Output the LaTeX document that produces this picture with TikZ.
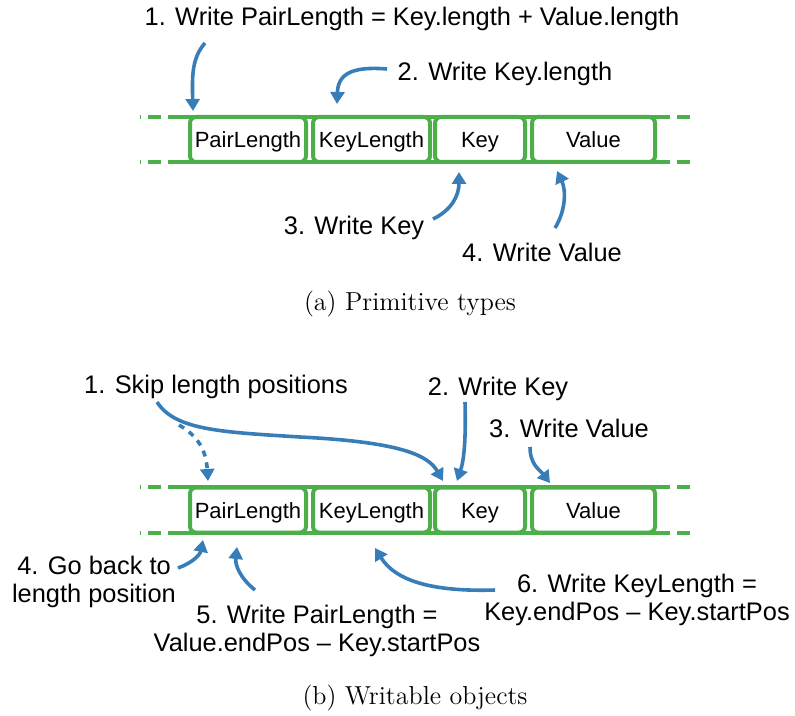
\documentclass[tikz,border=0pt]{standalone}
\usepackage{fontspec}
\setsansfont{Liberation Sans}
\usetikzlibrary{arrows.meta}
\definecolor{setblue}{HTML}{377EB8}
\definecolor{setgreen}{HTML}{4DAF4A}

\begin{document}
\begin{tikzpicture}[
    x=0.5pt, y=-0.5pt,
    field/.style={draw=setgreen, fill=white, line width=2pt, rounded corners=3pt, minimum height=22.5pt, inner sep=0pt, text height=8pt, text depth=0pt, font=\sffamily\fontsize{11}{13}\selectfont},
    rail/.style={setgreen, line width=2pt},
    railend/.style={setgreen, line width=2pt, dash pattern=on 6.5pt off 3.5pt, dash phase=6.5pt},
    note/.style={font=\sffamily\fontsize{12.7}{14}\selectfont, anchor=base, align=center, inner sep=0pt},
    caption/.style={font=\fontsize{13}{15}\selectfont, anchor=base, inner sep=0pt},
    push/.style={setblue, line width=1.8pt, -{Triangle[length=6pt,width=7pt]}}
]
    \useasboundingbox (0,0) rectangle (795,715);

    % rails of both buffers
    \foreach \y in {117,162,487,533} {
        \draw[rail] (168,\y) -- (670,\y);
        \draw[railend] (168,\y) -- (140,\y);
        \draw[railend] (670,\y) -- (692,\y);
    }

    % (a) Primitive types
    \node[field, minimum width=58pt] (pla) at (248,139.5) {PairLength};
    \node[field, minimum width=58.5pt] (kla) at (371.5,139.5) {KeyLength};
    \node[field, minimum width=45pt] (keya) at (480,139.5) {Key};
    \node[field, minimum width=61.5pt] (vala) at (593.5,139.5) {Value};

    \node[note] (pairnote) at (412,26) {1. Write PairLength = Key.length + Value.length};
    \node[note] (klnote) at (505,81) {2. Write Key.length};
    \node[note] (keynote) at (354,235) {3. Write Key};
    \node[note] (valnote) at (542,262) {4. Write Value};

    \coordinate (a1) at (205,43);
    \coordinate (a2) at (387,69);
    \coordinate (a3) at (433,219);
    \coordinate (a4) at (555,228);
    \draw[push] (a1) .. controls (192,58) and (192,75) .. (193,111);
    \draw[push] (a2) .. controls (350,66) and (338,75) .. (337,104);
    \draw[push] (a3) .. controls (452,210) and (459,195) .. (459,172);
    \draw[push] (a4) .. controls (566,210) and (566,190) .. (557,171);

    \node[caption] (capa) at (410,310) {(a) Primitive types};

    % (b) Writable objects
    \node[field, minimum width=58pt] (plb) at (248,510) {PairLength};
    \node[field, minimum width=58.5pt] (klb) at (371.5,510) {KeyLength};
    \node[field, minimum width=45pt] (keyb) at (480,510) {Key};
    \node[field, minimum width=61.5pt] (valb) at (593.5,510) {Value};

    \node[note] (skipnote) at (216,393) {1. Skip length positions};
    \node[note] (wkeynote) at (498,395) {2. Write Key};
    \node[note] (wvalnote) at (569,437) {3. Write Value};
    \node[note] (backnote) at (94,602) {4. Go back to\\length position};
    \node[note] (wplnote) at (317,651) {5. Write PairLength =\\Value.endPos -- Key.startPos};
    \node[note] (wklnote) at (637,620) {6. Write KeyLength =\\Key.endPos -- Key.startPos};

    \coordinate (b1) at (157,402);
    \coordinate (b1dash) at (179,425);
    \coordinate (b2) at (465,402);
    \coordinate (b3) at (530,447);
    \coordinate (b4) at (178,568);
    \coordinate (b5) at (255,590);
    \coordinate (b6) at (495,590);
    \draw[push] (b1) .. controls (175,430) and (220,432) .. (300,437)
        .. controls (400,442) and (428,455) .. (443,481);
    \draw[push, dashed] (b1dash) .. controls (198,436) and (206,450) .. (208,481);
    \draw[push] (b2) .. controls (466,440) and (464,460) .. (457,481);
    \draw[push] (b3) .. controls (530,465) and (540,470) .. (550,483);
    \draw[push] (b4) .. controls (192,563) and (200,555) .. (203,540);
    \draw[push] (b5) .. controls (240,578) and (235,565) .. (237,547);
    \draw[push] (b6) .. controls (430,592) and (395,580) .. (375,548);

    \node[caption] (capb) at (415,704) {(b) Writable objects};
\end{tikzpicture}
\end{document}
